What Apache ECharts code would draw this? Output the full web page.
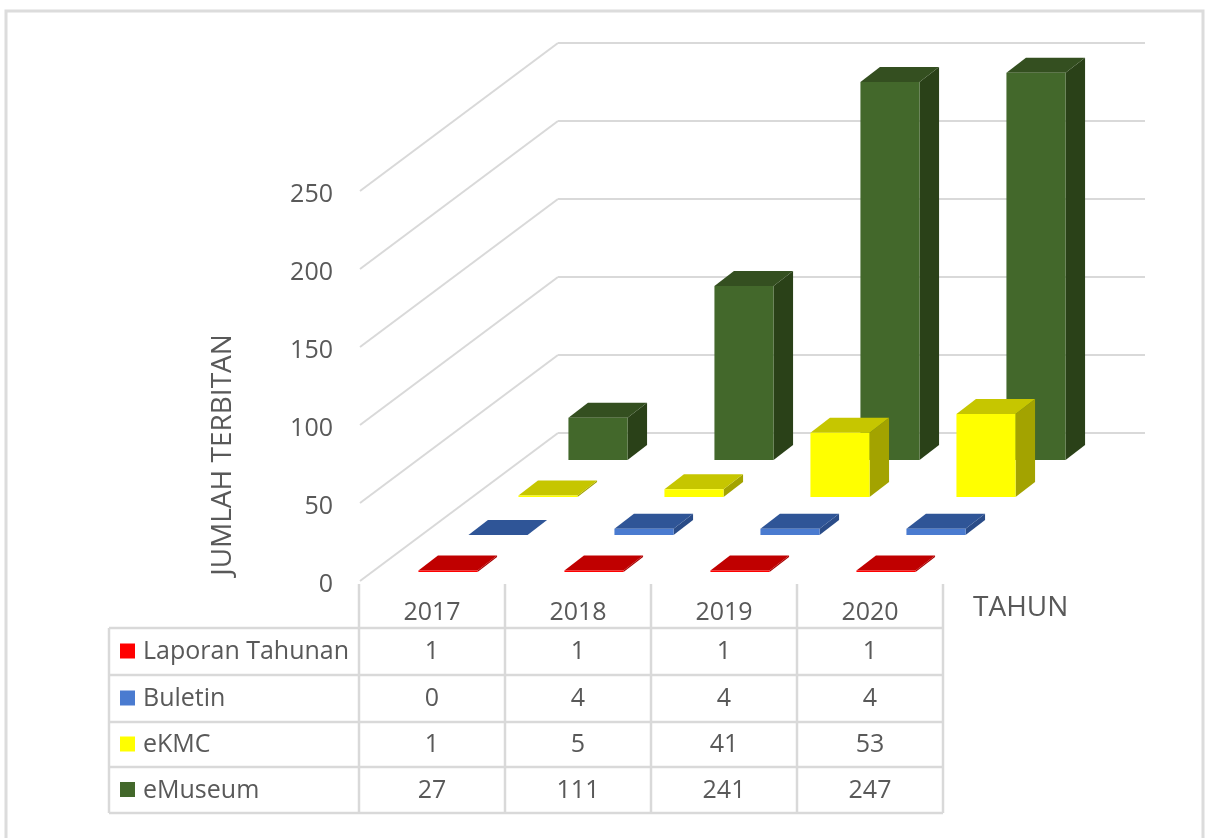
<!DOCTYPE html>
<html>
<head>
<meta charset="utf-8">
<style>html,body{margin:0;padding:0;background:#fff}#c{width:1205px;height:838px}</style>
<script src="https://cdn.jsdelivr.net/npm/echarts@6/dist/echarts.min.js"></script>
</head>
<body>
<div id="c"></div>
<script>
const years = ['2017', '2018', '2019', '2020'];
const tickValues = [0, 50, 100, 150, 200, 250];
const seriesNames = ['Laporan Tahunan', 'Buletin', 'eKMC', 'eMuseum'];
const laporanTahunan = [1, 1, 1, 1];
const buletin = [0, 4, 4, 4];
const eKMC = [1, 5, 41, 53];
const eMuseum = [27, 111, 241, 247];
const seriesValues = [laporanTahunan, buletin, eKMC, eMuseum];

// styling
const FONT = '"Open Sans", sans-serif';
const TXT = '#595959';
const LINE = '#d9d9d9';
const faces = [
  { front: '#ff0000', top: '#c00000', side: '#a80000' },
  { front: '#4a7bd0', top: '#2f5597', side: '#2a4c88' },
  { front: '#ffff00', top: '#c6c600', side: '#a3a300' },
  { front: '#43682b', top: '#344f20', side: '#2a4118' }
];
const rowLeft = [375, 425, 475, 525];
const rowBase = [572, 535, 497, 460];
const PLOT_W = 584, BAR_RATIO = 0.405, DX = 19.5, DY = 15;

const grids = [
  { left: 558, top: 43, width: 587, height: 390 },   // back wall
  { left: 359, top: 191, width: PLOT_W, height: 390 } // front scale
];
const xAxes = [
  { gridIndex: 0, type: 'category', data: years, show: false },
  { gridIndex: 1, type: 'category', data: years, show: false }
];
const yAxes = [
  { gridIndex: 0, type: 'value', min: 0, max: 250, interval: 50,
    axisLabel: { show: false }, axisLine: { show: false }, axisTick: { show: false },
    splitLine: { show: true, lineStyle: { color: LINE, width: 2 } } },
  { gridIndex: 1, type: 'value', min: 0, max: 250, interval: 50, show: false, splitLine: { show: false } }
];
seriesValues.forEach((_, k) => {
  grids.push({ left: rowLeft[k], top: rowBase[k] - 392, width: PLOT_W, height: 392 });
  xAxes.push({ gridIndex: k + 2, type: 'category', data: years, show: false });
  yAxes.push({ gridIndex: k + 2, type: 'value', min: 0, max: 250, interval: 50, show: false, splitLine: { show: false } });
});
// grid that only carries the visible tick labels
grids.push({ left: 359, top: 195, width: PLOT_W, height: 390 });
xAxes.push({ gridIndex: 6, type: 'category', data: years,
  axisLine: { show: false }, axisTick: { show: false },
  axisLabel: { color: TXT, fontFamily: FONT, fontSize: 25, margin: 15 } });
yAxes.push({ gridIndex: 6, type: 'value', min: 0, max: 250, interval: 50,
  axisLine: { show: false }, axisTick: { show: false }, splitLine: { show: false },
  axisLabel: { color: TXT, fontFamily: FONT, fontSize: 25, margin: 26 } });

function barRenderer(k) {
  return function (params, api) {
    const idx = api.value(0), val = api.value(1);
    const base = api.coord([idx, 0]);
    const top = api.coord([idx, val]);
    const w = api.size([1, 0])[0] * BAR_RATIO;
    const l = base[0] - w / 2, r = base[0] + w / 2;
    const poly = (pts, fill) => ({ type: 'polygon', shape: { points: pts }, style: { fill: fill } });
    const children = [];
    children.push(poly([[r, base[1]], [r + DX, base[1] - DY], [r + DX, top[1] - DY], [r, top[1]]], faces[k].side));
    children.push(poly([[l, top[1]], [r, top[1]], [r + DX, top[1] - DY], [l + DX, top[1] - DY]], faces[k].top));
    if (val > 0) children.push(poly([[l, base[1]], [r, base[1]], [r, top[1]], [l, top[1]]], faces[k].front));
    return { type: 'group', children: children };
  };
}

const series = [];
// side-wall gridlines
series.push({
  type: 'custom', xAxisIndex: 1, yAxisIndex: 1, silent: true, z: 1,
  data: tickValues.map(v => [0, v]),
  renderItem: function (params, api) {
    const p = api.coord([0, api.value(1)]);
    const x0 = params.coordSys.x;
    return { type: 'line', shape: { x1: x0 + 1, y1: p[1], x2: 558, y2: p[1] - 148 }, style: { stroke: LINE, lineWidth: 2 } };
  }
});
for (let k = seriesValues.length - 1; k >= 0; k--) {
  series.push({
    name: seriesNames[k], type: 'custom', xAxisIndex: k + 2, yAxisIndex: k + 2, z: 5 + (3 - k), clip: false,
    encode: { x: 0, y: 1 },
    data: seriesValues[k].map((v, i) => [i, v]),
    renderItem: barRenderer(k)
  });
}

// data table, frame and axis titles
const colX = [359, 505, 651, 797, 943];
const rowY = [628, 675, 722, 767, 813];
const gfx = [];
const ln = (x1, y1, x2, y2) => ({ type: 'line', shape: { x1, y1, x2, y2 }, style: { stroke: LINE, lineWidth: 2.5 }, silent: true });
gfx.push({ type: 'polyline', shape: { points: [[6, 838], [6, 11], [1203, 11], [1203, 838]] }, style: { stroke: '#dcdcdc', fill: null, lineWidth: 3 }, silent: true });
rowY.forEach(y => gfx.push(ln(109, y, 943, y)));
gfx.push(ln(109, 628, 109, 813));
colX.forEach(x => gfx.push(ln(x, 584, x, 813)));
seriesNames.forEach((name, r) => {
  const cy = (rowY[r] + rowY[r + 1]) / 2;
  gfx.push({ type: 'rect', shape: { x: 120, y: cy - 8, width: 15, height: 15 }, style: { fill: faces[r].front }, silent: true });
  gfx.push({ type: 'text', x: 143, y: cy + 0.5, style: { text: name, font: '25px ' + FONT, fill: TXT, textVerticalAlign: 'middle' }, silent: true });
  seriesValues[r].forEach((v, c) => {
    gfx.push({ type: 'text', x: (colX[c] + colX[c + 1]) / 2, y: cy + 0.5, style: { text: String(v), font: '25px ' + FONT, fill: TXT, textAlign: 'center', textVerticalAlign: 'middle' }, silent: true });
  });
});
gfx.push({ type: 'text', x: 973, y: 608, style: { text: 'TAHUN', font: '28px ' + FONT, fill: TXT, textVerticalAlign: 'middle' }, silent: true });
gfx.push({ type: 'text', x: 223, y: 455, rotation: Math.PI / 2, style: { text: 'JUMLAH TERBITAN', font: '28px ' + FONT, fill: TXT, textAlign: 'center', textVerticalAlign: 'middle' }, silent: true });

const chart = echarts.init(document.getElementById('c'), null, { renderer: 'canvas' });
chart.setOption({
  animation: false,
  backgroundColor: '#ffffff',
  grid: grids, xAxis: xAxes, yAxis: yAxes, series: series,
  graphic: { elements: gfx }
});
</script>
</body>
</html>
